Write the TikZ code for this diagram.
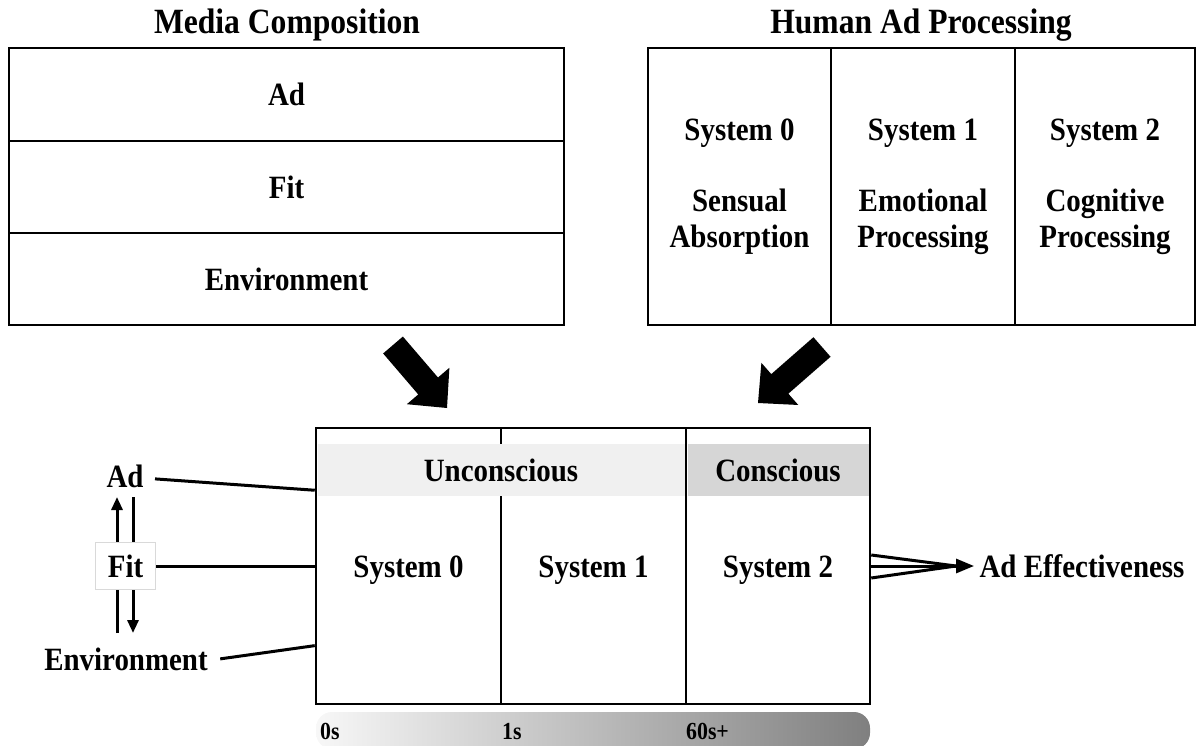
\documentclass[tikz,border=0pt]{standalone}
\usepackage{fontspec}
\setmainfont{Liberation Serif}[FakeStretch=0.89]
\usetikzlibrary{arrows.meta,calc}
\newcommand\fatarr[2]{%
  \coordinate (fa-hb) at ($(#2)!29pt!(#1)$);
  \fill ($(#1)!13pt!-90:(#2)$) -- ($(fa-hb)!13pt!-90:(#2)$) -- ($(fa-hb)!28pt!-90:(#2)$) -- (#2)
     -- ($(fa-hb)!28pt!90:(#2)$) -- ($(fa-hb)!13pt!90:(#2)$) -- ($(#1)!13pt!90:(#2)$) -- cycle;}
\begin{document}
\begin{tikzpicture}[x=1pt,y=-1pt,
  every node/.style={font=\fontsize{32.5}{36}\selectfont\bfseries},
  box/.style={draw, line width=2.5pt, inner sep=0pt, align=center},
  conn/.style={line width=3pt},
  small/.style={font=\fontsize{24.5}{28}\selectfont\bfseries, anchor=west, inner sep=0pt},
  tip/.style={-{Triangle[length=13pt,width=11pt]}},
]
\useasboundingbox (0,0) rectangle (1203,746);

% titles
\node[font=\fontsize{35.5}{40}\selectfont\bfseries] (t1) at (287,25) {Media Composition};
\node[font=\fontsize{35.5}{40}\selectfont\bfseries] (t2) at (921,25) {Human Ad Processing};

% media composition
\node[box, minimum width=555, minimum height=93] (mad) at (286.5,94.5) {Ad};
\node[box, minimum width=555, minimum height=92] (mfit) at (286.5,187) {Fit};
\node[box, minimum width=555, minimum height=92] (menv) at (286.5,279) {Environment};

% human ad processing
\node[box, minimum width=183, minimum height=277] (h0) at (739.5,186.5) {System 0\\[35pt]Sensual\\Absorption};
\node[box, minimum width=184, minimum height=277] (h1) at (923,186.5) {System 1\\[35pt]Emotional\\Processing};
\node[box, minimum width=180, minimum height=277] (h2) at (1105,186.5) {System 2\\[35pt]Cognitive\\Processing};

% fat arrows
\coordinate (fa1) at (393,345); \coordinate (fb1) at (447,408);
\coordinate (fa2) at (822,347); \coordinate (fb2) at (758,403);
\fatarr{fa1}{fb1}
\fatarr{fa2}{fb2}

% bottom box
\node[box, minimum width=185, minimum height=276] (s0) at (408.5,566) {};
\node[box, minimum width=185, minimum height=276] (s1) at (593.5,566) {};
\node[box, minimum width=184, minimum height=276] (s2) at (778,566) {};
\node[anchor=base] (l0) at (408.5,577) {System 0};
\node[anchor=base] (l1) at (593.5,577) {System 1};
\node[anchor=base] (l2) at (778,577) {System 2};
\fill[black!6] (317.5,444) rectangle (684.5,496);
\fill[black!16] (687.5,444) rectangle (868.5,496);
\node[anchor=base] (unc) at (501,481) {Unconscious};
\node[anchor=base] (con) at (778,481) {Conscious};

% time bar
\shade[left color=black!3, right color=black!50, rounded corners=16] (316,712) rectangle (870,749);
\node[small, anchor=base west] (t0s) at (320,739) {0s};
\node[small, anchor=base west] (t1s) at (502,739) {1s};
\node[small, anchor=base west] (t60) at (686,739) {60s+};

% left side
\node[anchor=base] (lad) at (125,487) {Ad};
\node[anchor=base] (lenv) at (126,670) {Environment};
\coordinate (u1) at (117,633); \coordinate (u2) at (117,497);
\coordinate (d1) at (133,497); \coordinate (d2) at (133,633);
\draw[conn, tip] (u1) -- (u2);
\draw[conn, tip] (d1) -- (d2);
\node[draw=black!15, line width=1pt, fill=white, minimum width=60, minimum height=47, inner sep=0pt, text depth=0pt] (lfit) at (125.5,566) {Fit};

\coordinate (ea) at ($(s0.north west)!0.228!(s0.south west)$);
\coordinate (ee) at ($(s0.north west)!0.786!(s0.south west)$);
\draw[conn] ([xshift=8,yshift=-3]lad.east) -- (ea);
\draw[conn] (lfit.east) -- (s0.west);
\draw[conn] ([xshift=9]lenv.east) -- (ee);

% right side
\node (ae) at (1082,566) {Ad Effectiveness};
\coordinate (conv) at ($(ae.west)+(-20,0)$);
\draw[conn] ($(s2.east)+(0,-11)$) -- (conv);
\draw[conn] ($(s2.east)+(0,12)$) -- (conv);
\draw[conn, -{Triangle[length=18pt,width=14pt]}] (s2.east) -- ([xshift=-2]ae.west);
\end{tikzpicture}
\end{document}
